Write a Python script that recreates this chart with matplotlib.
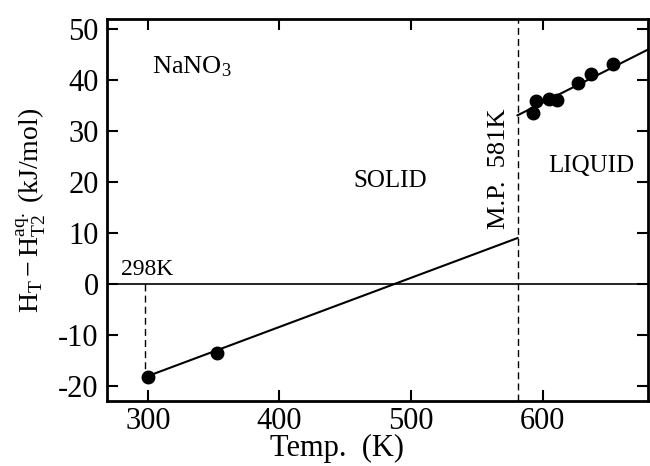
import matplotlib
matplotlib.use('Agg')
import matplotlib.pyplot as plt
import numpy as np

plt.rcParams['font.family'] = ['Liberation Serif', 'DejaVu Serif']
plt.rcParams['mathtext.fontset'] = 'custom'
plt.rcParams['mathtext.rm'] = 'Liberation Serif'
plt.rcParams['mathtext.it'] = 'Liberation Serif:italic'
plt.rcParams['axes.unicode_minus'] = False

# measured points
solid_T = [300.5, 352.4]
solid_H = [-18.2, -13.6]
liquid_T = [592.6, 595.1, 605.0, 610.8, 627.2, 636.9, 653.8]
liquid_H = [33.6, 35.9, 36.4, 36.1, 39.4, 41.3, 43.1]

# fitted lines (end points)
solid_fit_T = [298, 581]
solid_fit_H = [-18.3, 9.0]
liquid_fit_T = [581, 680]
liquid_fit_H = [33.1, 46.0]

T_ref = 298
T_mp = 581

xticks = [300, 400, 500, 600]
yticks = [-20, -10, 0, 10, 20, 30, 40, 50]

fig = plt.figure(figsize=(6.5, 4.66), dpi=100)
ax = fig.add_axes([0.1646, 0.1395, 0.832, 0.8195])

ax.plot(solid_fit_T, solid_fit_H, color='black', lw=1.5)
ax.plot(liquid_fit_T, liquid_fit_H, color='black', lw=1.5)
ax.plot(solid_T, solid_H, 'o', color='black', ms=9)
ax.plot(liquid_T, liquid_H, 'o', color='black', ms=9)

ax.axhline(0, color='black', lw=1.2)
ax.axvline(T_mp, color='black', lw=1.0, ls=(0, (5, 3)))
ax.plot([T_ref, T_ref], [0, solid_fit_H[0]], color='black', lw=1.0, ls=(0, (5, 3)))

ax.set_xlim(269, 680)
ax.set_ylim(-23, 52)
ax.set_xticks(xticks)
ax.set_yticks(yticks)
ax.tick_params(direction='in', length=8, width=1.5, labelsize=22,
               top=True, right=True, pad=4)
ax.tick_params(axis='y', pad=6)
for s in ax.spines.values():
    s.set_linewidth(2)

ax.set_xlabel('Temp.  (K)', fontsize=22, labelpad=0)
ax.xaxis.set_label_coords(0.425, -0.085)
ax.set_ylabel(r'$\mathrm{H_T - H^{aq.}_{T2}}$ (kJ/mol)', fontsize=20, labelpad=7)

ax.text(303, 41.4, r'NaNO$_3$', fontsize=19, va='baseline')
ax.text(456, 19, 'SOLID', fontsize=18, va='baseline')
ax.text(604, 22, 'LIQUID', fontsize=18, va='baseline')
ax.text(575.5, 22.7, 'M.P.  581K', fontsize=19, rotation=90, ha='right', va='center')
ax.text(280, 0.8, '298K', fontsize=17, va='bottom')

fig.savefig('out.png', dpi=100)
